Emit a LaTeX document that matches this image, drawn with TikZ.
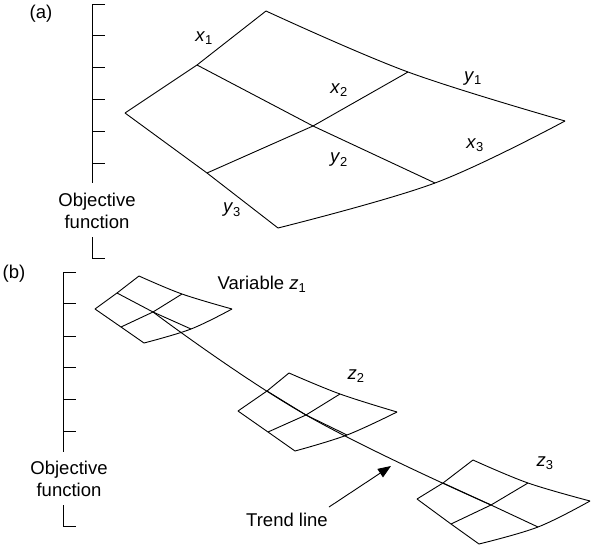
\documentclass[tikz,border=0pt]{standalone}
\usepackage{fontspec}
\setmainfont{Liberation Sans}
\usetikzlibrary{arrows.meta}

\newcommand{\vsub}[2]{\textit{#1}\textsubscript{#2}}
% one curved grid patch, corners and mid points named by prefix
\newcommand{\drawpatch}[1]{%
  \draw[surf] (#1l) -- (#1tl) -- (#1t);
  \draw[surf] plot[smooth, tension=0.6] coordinates {(#1t) (#1tr) (#1r)};
  \draw[surf] plot[smooth, tension=0.6] coordinates {(#1b) (#1br) (#1r)};
  \draw[surf] (#1l) -- (#1bl) -- (#1b);
  \draw[surf] (#1tl) -- (#1c) -- (#1br);
  \draw[surf] (#1bl) -- (#1c) -- (#1tr);
}

\begin{document}
\begin{tikzpicture}[x=1pt, y=-1pt, surf/.style={line width=0.9pt, line join=round}, axis/.style={line width=0.9pt}, lab/.style={font=\fontsize{18.5}{22}\selectfont, inner sep=0pt}]
  \useasboundingbox (0,0) rectangle (591,546);

  % (a) axis
  \node[lab] (alabel) at (41,14) {(a)};
  \draw[axis] (105,4) -- (92,4) -- (92,183);
  \foreach \y in {35,67,99,131,163} \draw[axis] (92,\y) -- (105,\y);
  \node[lab, align=center] (aobj) at (97,211) {Objective\\function};
  \draw[axis] (92,237) -- (92,258) -- (105,258);

  % (a) surface
  \coordinate (al) at (125,113);   \coordinate (at) at (266,11);
  \coordinate (ar) at (565,121);   \coordinate (ab) at (278,228);
  \coordinate (atl) at (197,65);   \coordinate (atr) at (408,72);
  \coordinate (abr) at (435,183);  \coordinate (abl) at (207,173);
  \coordinate (ac) at (313,126);
  \drawpatch{a}
  \node[lab] (x1) at (204,38) {\vsub{x}{1}};
  \node[lab] (x2) at (339,90) {\vsub{x}{2}};
  \node[lab] (y1) at (473,79) {\vsub{y}{1}};
  \node[lab] (x3) at (475,145) {\vsub{x}{3}};
  \node[lab] (y2) at (339,160) {\vsub{y}{2}};
  \node[lab] (y3) at (232,210) {\vsub{y}{3}};

  % (b) axis
  \node[lab] (blabel) at (14,274) {(b)};
  \draw[axis] (76,272) -- (63,272) -- (63,452);
  \foreach \y in {303,336,367,399,431} \draw[axis] (63,\y) -- (76,\y);
  \node[lab, align=center] (bobj) at (69,479) {Objective\\function};
  \draw[axis] (63,505) -- (63,526) -- (76,526);

  % (b) patches
  \coordinate (pl) at (95,309);   \coordinate (pt) at (139,276);
  \coordinate (pr) at (232,309);  \coordinate (pb) at (144,343);
  \coordinate (ptl) at (117,293); \coordinate (ptr) at (182,294);
  \coordinate (pbr) at (191,329); \coordinate (pbl) at (121,327);
  \coordinate (pc) at (153,312);
  \drawpatch{p}

  \coordinate (ql) at (238,411);  \coordinate (qt) at (289,373);
  \coordinate (qr) at (397,412);  \coordinate (qb) at (295,451);
  \coordinate (qtl) at (267,391); \coordinate (qtr) at (340,394);
  \coordinate (qbr) at (347,435); \coordinate (qbl) at (268,432);
  \coordinate (qc) at (306,415);
  \drawpatch{q}

  \coordinate (rl) at (417,499);  \coordinate (rt) at (473,460);
  \coordinate (rr) at (590,501);  \coordinate (rb) at (479,544);
  \coordinate (rtl) at (443,483); \coordinate (rtr) at (528,483);
  \coordinate (rbr) at (538,527); \coordinate (rbl) at (451,524);
  \coordinate (rc) at (491,505);
  \drawpatch{r}

  \node[lab] (z1) at (262,284) {Variable \vsub{z}{1}};
  \node[lab] (z2) at (356,376) {\vsub{z}{2}};
  \node[lab] (z3) at (545,463) {\vsub{z}{3}};

  % trend line
  \draw[surf] plot[smooth, tension=0.7] coordinates {(pc) (qc) (rc)};
  \node[lab] (trend) at (287,520) {Trend line};
  \coordinate (ttail) at (329,507);
  \coordinate (thead) at (391,466);
  \draw[axis, -{Triangle[length=13pt, width=10pt]}] (ttail) -- (thead);
\end{tikzpicture}
\end{document}
